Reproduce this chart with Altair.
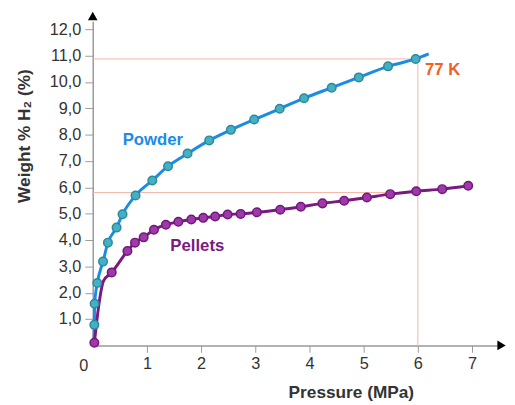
import altair as alt
import pandas as pd

# Powder measured points (pressure MPa, weight % H2)
powder_p = [0.03, 0.035, 0.085, 0.19, 0.28, 0.44, 0.55, 0.79, 1.1, 1.39, 1.75, 2.15,
            2.55, 2.98, 3.45, 3.9, 4.41, 4.91, 5.45, 5.96]
powder_w = [0.78, 1.58, 2.37, 3.18, 3.9, 4.47, 4.98, 5.69, 6.26, 6.8, 7.28, 7.78,
            8.18, 8.57, 8.98, 9.38, 9.78, 10.17, 10.59, 10.87]
# curve start / end beyond markers
powder_start = (0.02, 0.1)
powder_end = (6.2, 11.06)

# Pellets measured points
pellet_p = [0.03, 0.35, 0.64, 0.78, 0.94, 1.13, 1.35, 1.58, 1.82, 2.04, 2.26, 2.49,
            2.73, 3.03, 3.46, 3.84, 4.24, 4.64, 5.06, 5.49, 5.97, 6.45, 6.93]
pellet_w = [0.1, 2.77, 3.58, 3.9, 4.1, 4.39, 4.58, 4.69, 4.78, 4.84, 4.89, 4.97,
            4.99, 5.05, 5.15, 5.26, 5.39, 5.49, 5.61, 5.74, 5.85, 5.93, 6.06]
# extra curve points of the pellets line near the origin
pellet_curve_p = [0.06, 0.11, 0.2]
pellet_curve_w = [0.65, 1.5, 2.45]

# reference guides at 77 K
ref_pressure = 6.0
ref_powder = 10.87
ref_pellet = 5.8

x_ticks = [1, 2, 3, 4, 5, 6, 7]
y_ticks = [1, 2, 3, 4, 5, 6, 7, 8, 9, 10, 11, 12]

FONT = "Liberation Sans"
TXT = "#333333"
AX = "#9a9a9a"

powder_df = pd.DataFrame({"p": powder_p, "w": powder_w})
powder_line_df = pd.DataFrame({
    "p": [powder_start[0]] + powder_p + [powder_end[0]],
    "w": [powder_start[1]] + powder_w + [powder_end[1]],
})
pellet_df = pd.DataFrame({"p": pellet_p, "w": pellet_w})
pl = sorted(zip(pellet_p + pellet_curve_p, pellet_w + pellet_curve_w))
pellet_line_df = pd.DataFrame({"p": [a for a, b in pl], "w": [b for a, b in pl]})

xs = alt.Scale(domain=[0, 7.5], nice=False, zero=False)
ys = alt.Scale(domain=[0, 12.3], nice=False, zero=False)

x_axis = alt.Axis(values=x_ticks, tickCount=len(x_ticks), title="Pressure (MPa)",
                  grid=False, format="d",
                  labelOverlap=False, labelFlush=False,
                  domainColor=AX, domainWidth=1.5, tickColor=AX, tickSize=7,
                  labelFont=FONT, labelFontSize=16.5, labelColor=TXT, labelPadding=3,
                  titleFont=FONT, titleFontSize=17.5, titleFontWeight="bold", titleColor=TXT,
                  titleX=262, titleY=48, titleBaseline="middle", titleAlign="center")
y_axis = alt.Axis(values=y_ticks, tickCount=len(y_ticks), title="Weight % H₂ (%)",
                  grid=False, labelOverlap=False, labelFlush=False,
                  labelExpr="replace(format(datum.value, '.1f'), '.', ',')",
                  domainColor=AX, domainWidth=1.5, tickColor=AX, tickSize=8,
                  labelFont=FONT, labelFontSize=16.5, labelColor=TXT, labelPadding=4,
                  titleFont=FONT, titleFontSize=17.5, titleFontWeight="bold", titleColor=TXT,
                  titleX=-69, titleY=116, titleBaseline="middle", titleAlign="center",
                  titleAngle=270)

ref_df = pd.DataFrame({
    "x": [0, 0, ref_pressure],
    "x2": [ref_pressure, ref_pressure, ref_pressure],
    "y": [ref_powder, ref_pellet, 0],
    "y2": [ref_powder, ref_pellet, ref_powder],
})

base_axes = alt.Chart(ref_df).mark_rule(color="#f5b5a3", strokeWidth=1).encode(
    x=alt.X("x:Q", scale=xs, axis=x_axis),
    x2="x2:Q",
    y=alt.Y("y:Q", scale=ys, axis=y_axis),
    y2="y2:Q",
)

powder_line = alt.Chart(powder_line_df).mark_line(
    color="#1a8ce8", strokeWidth=3, interpolate="monotone"
).encode(x=alt.X("p:Q", scale=xs), y=alt.Y("w:Q", scale=ys))

pellet_line = alt.Chart(pellet_line_df).mark_line(
    color="#7a1a80", strokeWidth=3, interpolate="monotone"
).encode(x=alt.X("p:Q", scale=xs), y=alt.Y("w:Q", scale=ys))

powder_pts = alt.Chart(powder_df).mark_point(
    filled=True, fill="#45afc4", stroke="#2a8a9c", strokeWidth=1.5, size=75, opacity=1
).encode(x=alt.X("p:Q", scale=xs), y=alt.Y("w:Q", scale=ys))

pellet_pts = alt.Chart(pellet_df).mark_point(
    filled=True, fill="#9c3aa8", stroke="#74177c", strokeWidth=1.5, size=75, opacity=1
).encode(x=alt.X("p:Q", scale=xs), y=alt.Y("w:Q", scale=ys))

labels_df = pd.DataFrame({
    "p": [1.11, 1.93],
    "w": [7.8, 3.78],
    "t": ["Powder", "Pellets"],
    "c": ["#1a8ce8", "#7a1a80"],
})
labels = alt.Chart(labels_df).mark_text(
    font=FONT, fontSize=17, fontWeight="bold", align="center", baseline="middle"
).encode(x=alt.X("p:Q", scale=xs), y=alt.Y("w:Q", scale=ys), text="t:N",
         color=alt.Color("c:N", scale=None))

k_label = alt.Chart(pd.DataFrame({"p": [6.13], "w": [10.45], "t": ["77 K"]})).mark_text(
    font=FONT, fontSize=17, fontWeight="bold", align="left", baseline="middle",
    color="#f26122"
).encode(x=alt.X("p:Q", scale=xs), y=alt.Y("w:Q", scale=ys), text="t:N")

zero_label = alt.Chart(pd.DataFrame({"t": ["0"]})).mark_text(
    font=FONT, fontSize=16.5, color=TXT, align="center", baseline="middle"
).encode(x=alt.value(-9), y=alt.value(350), text="t:N")

arrows_df = pd.DataFrame({"p": [0, 7.545], "w": [12.5, 0],
                          "s": ["triangle-up", "triangle-right"]})
arrows = alt.Chart(arrows_df).mark_point(
    filled=True, color="black", size=95, opacity=1
).encode(x=alt.X("p:Q", scale=xs), y=alt.Y("w:Q", scale=ys),
         shape=alt.Shape("s:N", scale=None))

chart = alt.layer(
    base_axes, powder_line, pellet_line, powder_pts, pellet_pts,
    labels, k_label, zero_label, arrows
).properties(
    width=412.5, height=329,
    autosize=alt.AutoSizeParams(type="none"),
    padding={"left": 86, "top": 10.5, "right": 8, "bottom": 57},
    background="white",
).configure_view(stroke=None)

chart.save("out.html", embed_options={"renderer": "svg", "actions": False})
